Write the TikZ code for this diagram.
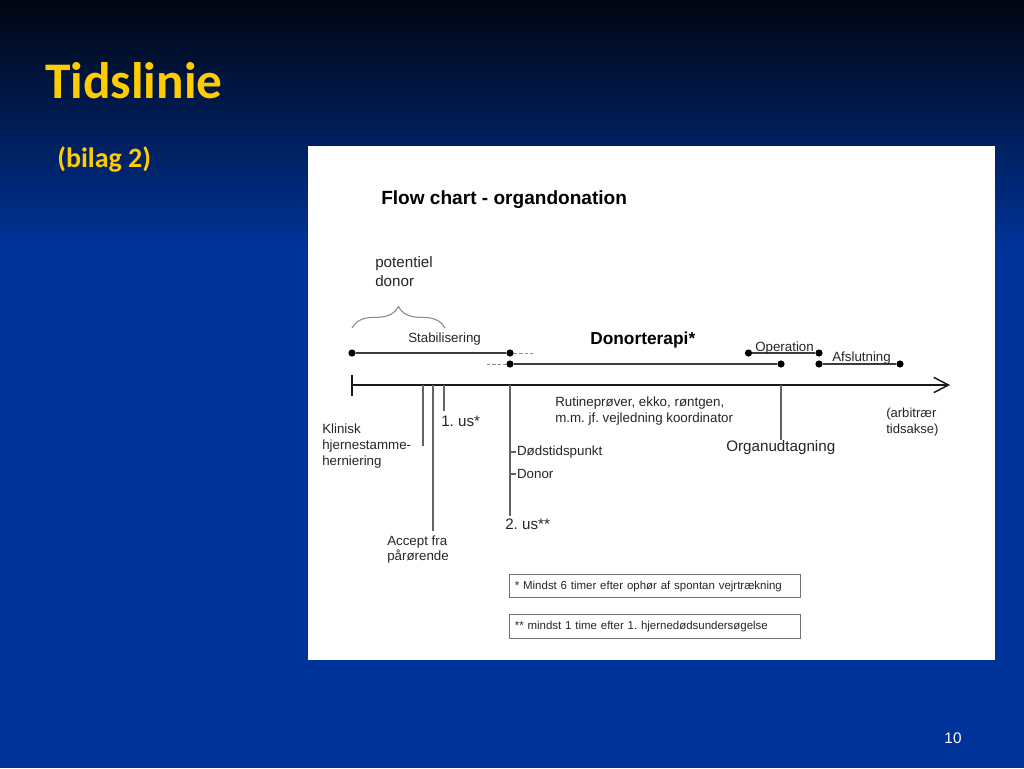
\documentclass[tikz,border=0pt]{standalone}
\usepackage{fontspec}
\setmainfont{Liberation Sans}
\newfontfamily\slidefont{Carlito}
\usetikzlibrary{positioning, calc, arrows.meta, decorations.pathreplacing}
\definecolor{slideblue}{HTML}{003399}
\definecolor{slidetop}{HTML}{000612}
\definecolor{titleyellow}{HTML}{FFCC00}
\definecolor{linegray}{HTML}{3C3C3C}
\definecolor{bracegray}{HTML}{8A8A8A}
\frenchspacing

\begin{document}
\begin{tikzpicture}[x=0.75pt, y=-0.75pt,
    title/.style={font=\slidefont\bfseries\fontsize{38.5}{40}\selectfont, text=titleyellow, inner sep=0pt},
    subtitle/.style={font=\slidefont\bfseries\fontsize{21}{24}\selectfont, text=titleyellow, inner sep=0pt},
    lbl/.style={font=\fontsize{10}{12}\selectfont, align=left, inner sep=0pt, text=black!85},
    big_lbl/.style={font=\fontsize{11.4}{14.2}\selectfont, align=left, inner sep=0pt, text=black!85},
    dot/.style={circle, fill=black, inner sep=0pt, minimum size=5.4pt},
    phase_line/.style={draw=linegray, line width=0.9pt},
    dash_line/.style={draw=bracegray, line width=0.7pt, dash pattern=on 2.5pt off 1.5pt},
    drop_line/.style={draw=linegray!80, line width=0.8pt},
    note_box/.style={draw=black!55, line width=0.8pt, rectangle, minimum height=17.5pt,
      text width=210pt, inner xsep=4pt, align=left, font=\fontsize{8.6}{10}\selectfont, text=black!85}]

    % Background
    \shade[top color=slidetop, bottom color=slideblue] (0,0) rectangle (1024,250);
    \fill[slideblue] (0,249) rectangle (1024,768);
    \useasboundingbox (0,0) rectangle (1024,768);

    % Title
    \node[title, anchor=base west] (title) at (45,98) {Tidslinie};
    \node[subtitle, anchor=base west] (bilag) at (57,167) {(bilag 2)};
    \node[font=\fontsize{11.5}{13}\selectfont, text=white, inner sep=0pt] (page_no) at (953,738) {10};

    % Chart panel
    \fill[white] (308,146) rectangle (995,660);
    \node[font=\bfseries\fontsize{14.3}{16}\selectfont, inner sep=0pt, anchor=west] (flow_title) at (381,200) {Flow chart - organdonation};

    % Potential donor
    \node[big_lbl, anchor=west] (pot_donor) at (375,272) {potentiel\\donor};
    \coordinate (brace_l) at (352,328);
    \coordinate (brace_r) at (445,328);
    \draw[bracegray, line width=0.8pt, decorate, decoration={brace, amplitude=16pt}] (brace_l) -- (brace_r);

    % Stabilisering
    \node[dot] (stab_start) at (352,353) {};
    \node[dot] (stab_end) at (510,353) {};
    \coordinate (stab_tail) at (533,353);
    \draw[phase_line] (stab_start) -- (stab_end);
    \draw[dash_line] (stab_end) -- (stab_tail);
    \node[lbl, anchor=west] (stab_lbl) at (408,339) {Stabilisering};

    % Donorterapi
    \coordinate (ther_tail) at (487,364);
    \node[dot] (ther_start) at (510,364) {};
    \node[dot] (ther_end) at (781,364) {};
    \draw[dash_line] (ther_tail) -- (ther_start);
    \draw[phase_line] (ther_start) -- (ther_end);
    \node[font=\bfseries\fontsize{13}{15}\selectfont, inner sep=0pt, anchor=west] (ther_lbl) at (590,340) {Donorterapi*};

    % Operation
    \node[dot] (op_start) at (748.5,353) {};
    \node[dot] (op_end) at (819,353) {};
    \draw[phase_line] (op_start) -- (op_end);
    \node[lbl, anchor=base west] (op_lbl) at (755,351) {Operation};

    % Afslutning
    \node[dot] (end_start) at (819,364) {};
    \node[dot] (end_end) at (900,364) {};
    \draw[phase_line] (end_start) -- (end_end);
    \node[lbl, anchor=base west] (end_lbl) at (832,361.5) {Afslutning};

    % Time axis
    \coordinate (axis_start) at (352,385);
    \coordinate (axis_end) at (950,385);
    \coordinate (tick_top) at (352,375);
    \coordinate (tick_bot) at (352,396);
    \draw[black!90, line width=1.6pt, -{Straight Barb[length=11pt, width=11.5pt, line width=1.1pt]}] (axis_start) -- (axis_end);
    \draw[black!90, line width=1.1pt] (tick_top) -- (tick_bot);
    \node[lbl, anchor=west, font=\fontsize{9.8}{12.4}\selectfont] (axis_lbl) at (886,422) {(arbitrær\\tidsakse)};

    % Drops from the axis
    \coordinate (klin_top) at (423,385);
    \coordinate (klin_bot) at (423,446);
    \coordinate (acc_top) at (433,385);
    \coordinate (acc_bot) at (433,531);
    \coordinate (us1_top) at (444,385);
    \coordinate (us1_bot) at (444,411);
    \coordinate (death_top) at (510,385);
    \coordinate (death_bot) at (510,516);
    \coordinate (organ_top) at (781,385);
    \coordinate (organ_bot) at (781,440);
    \draw[drop_line] (klin_top) -- (klin_bot);
    \draw[drop_line] (acc_top) -- (acc_bot);
    \draw[drop_line] (us1_top) -- (us1_bot);
    \draw[drop_line] (death_top) -- (death_bot);
    \draw[drop_line] (organ_top) -- (organ_bot);

    \node[lbl, anchor=west] (klin_lbl) at (322,446) {Klinisk\\hjernestamme-\\herniering};
    \node[lbl, anchor=west, font=\fontsize{10}{11.3}\selectfont] (acc_lbl) at (387,549.5) {Accept fra\\pårørende};
    \node[big_lbl, anchor=west] (us1_lbl) at (441,421) {1. us*};
    \node[lbl, anchor=west] (rutine_lbl) at (555,411) {Rutineprøver, ekko, røntgen,\\m.m. jf. vejledning koordinator};
    \node[big_lbl, anchor=west] (organ_lbl) at (726,448) {Organudtagning};

    % Death ticks
    \coordinate (dod_tick) at (510,452);
    \coordinate (donor_tick) at (510,474);
    \node[lbl, anchor=west, inner xsep=0.6pt] (dod_lbl) at (516,452) {Dødstidspunkt};
    \node[lbl, anchor=west, inner xsep=0.6pt] (donor_lbl) at (516,474) {Donor};
    \draw[drop_line] (dod_tick) -- (dod_lbl.west);
    \draw[drop_line] (donor_tick) -- (donor_lbl.west);
    \node[big_lbl, anchor=west] (us2_lbl) at (505,524) {2. us**};

    % Footnotes
    \node[note_box, anchor=north west] (note1) at (509,574) {* Mindst 6 timer efter ophør af spontan vejrtrækning};
    \node[note_box, below=12pt of note1] (note2) {** mindst 1 time efter 1. hjernedødsundersøgelse};
\end{tikzpicture}
\end{document}
